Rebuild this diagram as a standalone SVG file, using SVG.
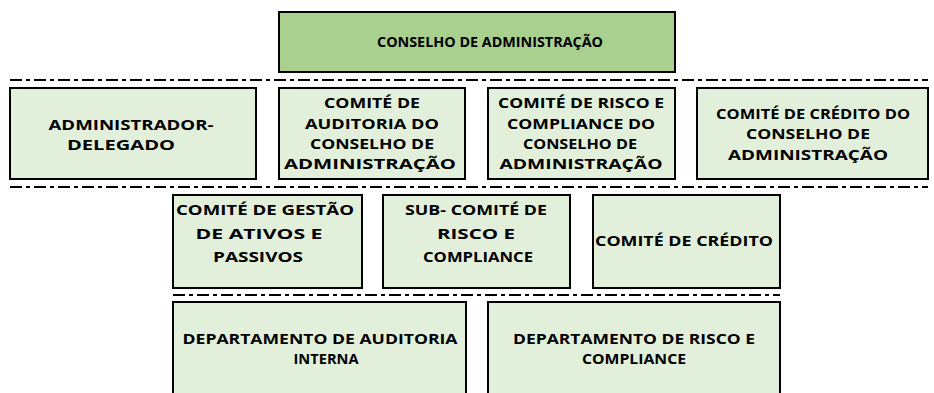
<svg xmlns="http://www.w3.org/2000/svg" width="934" height="393" viewBox="0 0 934 393">
<style>
.box{fill:#E2EFDA;stroke:#000;stroke-width:2}
.top{fill:#A9D08E;stroke:#000;stroke-width:2}
.sep{stroke:#000;stroke-width:2;stroke-dasharray:12 4 4 4;fill:none}
text{font-family:"Open Sans","Liberation Sans",Arial,sans-serif;font-weight:bold;font-size:14px;fill:#000;text-anchor:middle}
</style>
<rect width="934" height="393" fill="#fff"/>
<g id="connectors">
<line class="sep" x1="10" y1="80" x2="928" y2="80"/>
<line class="sep" x1="10" y1="187" x2="928" y2="187"/>
<line class="sep" x1="173" y1="295" x2="780" y2="295"/>
</g>
<g id="conselho">
<rect class="top" x="279" y="12" width="396" height="60"/>
<text x="490" y="47" textLength="226" lengthAdjust="spacingAndGlyphs">CONSELHO DE ADMINISTRAÇÃO</text>
</g>
<g id="admin-delegado">
<rect class="box" x="10" y="88" width="246" height="91"/>
<text x="131" y="130" textLength="165" lengthAdjust="spacingAndGlyphs">ADMINISTRADOR-</text>
<text x="121" y="150" textLength="108" lengthAdjust="spacingAndGlyphs">DELEGADO</text>
</g>
<g id="comite-auditoria">
<rect class="box" x="279" y="88" width="186" height="91"/>
<text x="372" y="108" textLength="96" lengthAdjust="spacingAndGlyphs">COMITÉ DE</text>
<text x="372" y="129" textLength="134" lengthAdjust="spacingAndGlyphs">AUDITORIA DO</text>
<text x="372" y="149" textLength="124" lengthAdjust="spacingAndGlyphs">CONSELHO DE</text>
<text x="370" y="169" textLength="172" lengthAdjust="spacingAndGlyphs">ADMINISTRAÇÃO</text>
</g>
<g id="comite-risco">
<rect class="box" x="488" y="88" width="187" height="91"/>
<text x="581" y="108" textLength="166" lengthAdjust="spacingAndGlyphs">COMITÉ DE RISCO E</text>
<text x="581" y="129" textLength="148" lengthAdjust="spacingAndGlyphs">COMPLIANCE  DO</text>
<text x="580" y="149" textLength="114" lengthAdjust="spacingAndGlyphs">CONSELHO DE</text>
<text x="581" y="169" textLength="163" lengthAdjust="spacingAndGlyphs">ADMINISTRAÇÃO</text>
</g>
<g id="comite-credito-ca">
<rect class="box" x="697" y="88" width="231" height="91"/>
<text x="813" y="119" textLength="194" lengthAdjust="spacingAndGlyphs">COMITÉ DE CRÉDITO DO</text>
<text x="808" y="139" textLength="124" lengthAdjust="spacingAndGlyphs">CONSELHO DE</text>
<text x="808" y="160" textLength="160" lengthAdjust="spacingAndGlyphs">ADMINISTRAÇÃO</text>
</g>
<g id="comite-gestao">
<rect class="box" x="173" y="195" width="189" height="93"/>
<text x="265" y="215" textLength="178" lengthAdjust="spacingAndGlyphs">COMITÉ DE GESTÃO</text>
<text x="259" y="239" textLength="127" lengthAdjust="spacingAndGlyphs">DE ATIVOS E</text>
<text x="258" y="262" textLength="90" lengthAdjust="spacingAndGlyphs">PASSIVOS</text>
</g>
<g id="sub-comite">
<rect class="box" x="383" y="195" width="187" height="93"/>
<text x="476" y="215" textLength="142" lengthAdjust="spacingAndGlyphs">SUB- COMITÉ DE</text>
<text x="476" y="239" textLength="78" lengthAdjust="spacingAndGlyphs">RISCO E</text>
<text x="478" y="262" textLength="110" lengthAdjust="spacingAndGlyphs">COMPLIANCE</text>
</g>
<g id="comite-credito">
<rect class="box" x="593" y="195" width="187" height="93"/>
<text x="684" y="246" textLength="178" lengthAdjust="spacingAndGlyphs">COMITÉ DE CRÉDITO</text>
</g>
<g id="dep-auditoria">
<rect class="box" x="173" y="302" width="293" height="100"/>
<text x="320" y="344" textLength="275" lengthAdjust="spacingAndGlyphs">DEPARTAMENTO DE AUDITORIA</text>
<text x="326" y="364" textLength="65" lengthAdjust="spacingAndGlyphs">INTERNA</text>
</g>
<g id="dep-risco">
<rect class="box" x="488" y="302" width="292" height="100"/>
<text x="634" y="344" textLength="242" lengthAdjust="spacingAndGlyphs">DEPARTAMENTO DE RISCO E</text>
<text x="634" y="364" textLength="104" lengthAdjust="spacingAndGlyphs">COMPLIANCE</text>
</g>
</svg>
